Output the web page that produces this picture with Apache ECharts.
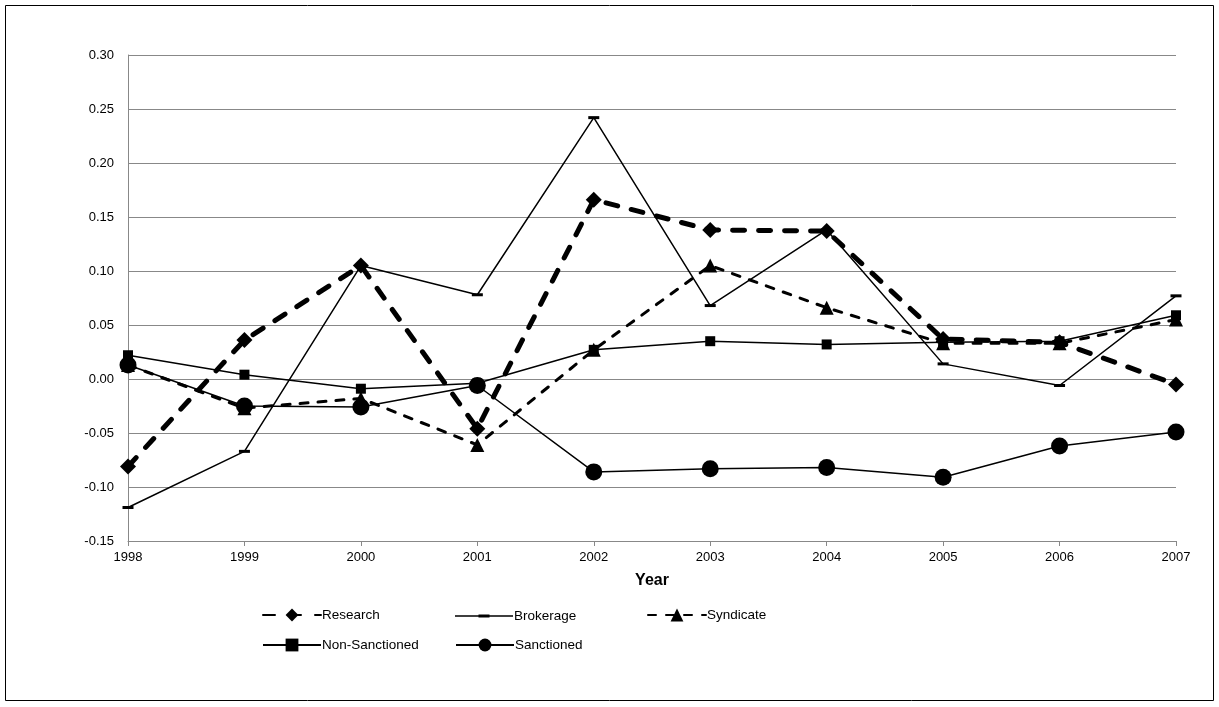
<!DOCTYPE html>
<html>
<head>
<meta charset="utf-8">
<script src="https://cdn.jsdelivr.net/npm/echarts@6/dist/echarts.min.js"></script>
<style>
  html, body { margin: 0; padding: 0; background: #fff; }
  #chart { width: 1219px; height: 707px; }
</style>
</head>
<body>
<div id="chart"></div>
<script>
const years = ["1998", "1999", "2000", "2001", "2002", "2003", "2004", "2005", "2006", "2007"];
const research = [-0.081, 0.036, 0.105, -0.046, 0.166, 0.138, 0.137, 0.037, 0.034, -0.005];
const brokerage = [-0.119, -0.067, 0.105, 0.078, 0.242, 0.068, 0.138, 0.014, -0.006, 0.077];
const syndicate = [0.013, -0.027, -0.018, -0.061, 0.027, 0.105, 0.066, 0.033, 0.033, 0.055];
const nonSanctioned = [0.022, 0.004, -0.009, -0.004, 0.027, 0.035, 0.032, 0.034, 0.035, 0.059];
const sanctioned = [0.013, -0.025, -0.026, -0.006, -0.086, -0.083, -0.082, -0.091, -0.062, -0.049];

const font = "Liberation Sans";
const chart = echarts.init(document.getElementById("chart"));

// line with a flat dash marker in the middle, sized to the 58x16 legend box
const dashIcon = "path://M0,0L0,0M58,16L58,16M0,7.25H58V8.75H0ZM23.5,6.5H34.5V9.5H23.5Z";

function legendAt(name, left, top, icon) {
  return {
    data: [icon ? { name: name, icon: icon } : name],
    left: left,
    top: top,
    itemWidth: 58,
    itemHeight: 16,
    itemGap: 0,
    textStyle: { fontFamily: font, fontSize: 13.5, color: "#000", padding: [0, 0, 0, -4] },
    selectedMode: false,
  };
}

const option = {
  animation: false,
  backgroundColor: "#fff",
  graphic: [
    {
      type: "rect",
      shape: { x: 5.5, y: 5.5, width: 1208, height: 695 },
      style: { fill: "none", stroke: "#000", lineWidth: 1 },
    },
  ],
  grid: { left: 128, right: 43, top: 55, bottom: 166 },
  legend: [
    legendAt("Research", 257, 603),
    legendAt("Brokerage", 450, 603, dashIcon),
    legendAt("Syndicate", 642, 603),
    legendAt("Non-Sanctioned", 257, 633),
    legendAt("Sanctioned", 450, 633),
  ],
  xAxis: {
    type: "category",
    data: years,
    boundaryGap: false,
    name: "Year",
    nameLocation: "middle",
    nameGap: 32,
    nameTextStyle: { fontFamily: font, fontSize: 16, fontWeight: "bold", color: "#000" },
    axisLine: { onZero: false, lineStyle: { color: "#888", width: 1 } },
    axisTick: { show: true, length: 5, lineStyle: { color: "#888" } },
    axisLabel: { fontFamily: font, fontSize: 13, color: "#000", margin: 10 },
    splitLine: { show: false },
  },
  yAxis: {
    type: "value",
    min: -0.15,
    max: 0.3,
    interval: 0.05,
    axisLine: { show: true, lineStyle: { color: "#888", width: 1 } },
    axisTick: { show: false },
    axisLabel: {
      fontFamily: font,
      fontSize: 13,
      color: "#000",
      margin: 14,
      formatter: (v) => v.toFixed(2),
    },
    splitLine: { lineStyle: { color: "#888", width: 1 } },
  },
  series: [
    {
      name: "Research",
      type: "line",
      data: research,
      symbol: "diamond",
      symbolSize: 16,
      z: 5,
      itemStyle: { color: "#000" },
      lineStyle: { color: "#000", width: 5, type: [12, 14], cap: "round" },
    },
    {
      name: "Brokerage",
      type: "line",
      data: brokerage,
      symbol: "rect",
      symbolSize: [11, 3],
      itemStyle: { color: "#000" },
      lineStyle: { color: "#000", width: 1.5 },
    },
    {
      name: "Syndicate",
      type: "line",
      data: syndicate,
      symbol: "triangle",
      symbolSize: 14,
      itemStyle: { color: "#000" },
      lineStyle: { color: "#000", width: 3, type: [8, 10], cap: "round" },
    },
    {
      name: "Non-Sanctioned",
      type: "line",
      data: nonSanctioned,
      symbol: "rect",
      symbolSize: 10,
      itemStyle: { color: "#000" },
      lineStyle: { color: "#000", width: 1.5 },
    },
    {
      name: "Sanctioned",
      type: "line",
      data: sanctioned,
      symbol: "circle",
      symbolSize: 17,
      itemStyle: { color: "#000" },
      lineStyle: { color: "#000", width: 1.5 },
    },
  ],
};

chart.setOption(option);
</script>
</body>
</html>
